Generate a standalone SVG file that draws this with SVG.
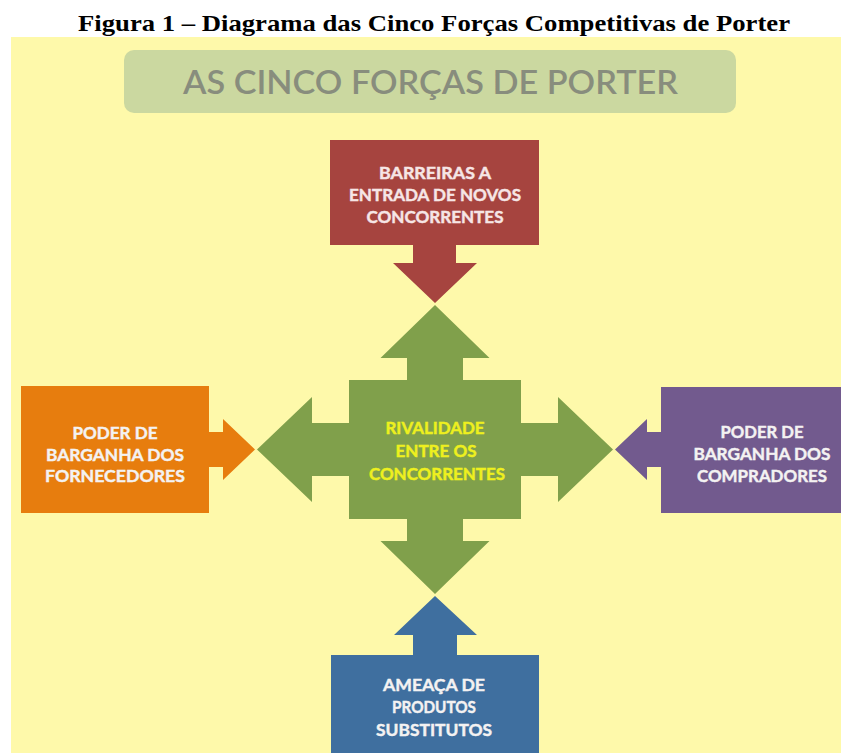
<svg xmlns="http://www.w3.org/2000/svg" width="841" height="753" viewBox="0 0 841 753">
  <style>
    .cap { font-family: "Liberation Serif", "Times New Roman", serif; font-weight: bold; font-size: 24px; fill: #000; }
    .title { font-family: Lato, "Open Sans", sans-serif; font-size: 32px; font-weight: 600; fill: #888D7D; }
    .lbl { font-family: Lato, "Open Sans", sans-serif; font-weight: bold; font-size: 17.5px; text-anchor: middle; stroke-width: 0.45px; }
    .w { fill: #F4F2F2; stroke: #F4F2F2; }
    .wr { fill: #F6E6E6; stroke: #F6E6E6; }
    .y { fill: #EEF01E; stroke: #EEF01E; }
  </style>
  <rect x="0" y="0" width="841" height="753" fill="#FFFFFF"/>
  <text class="cap" x="78" y="31" textLength="712" lengthAdjust="spacingAndGlyphs">Figura 1 – Diagrama das Cinco Forças Competitivas de Porter</text>
  <rect id="background" x="11" y="37" width="830" height="716" fill="#FEF9AA"/>

  <g id="title">
    <rect x="124" y="50" width="612" height="63" rx="10" ry="10" fill="#CBD8A0"/>
    <text class="title" x="183" y="94" textLength="495" lengthAdjust="spacingAndGlyphs">AS CINCO FORÇAS DE PORTER</text>
  </g>

  <g id="connectors">
    <!-- red arrow down -->
    <polygon points="413,244 456,244 456,263 477,263 435,303 393,263 413,263" fill="#A6443F"/>
    <!-- orange arrow right -->
    <polygon points="208,432 223,432 223,419 255,449.5 223,480 223,467 208,467" fill="#E77D0E"/>
    <!-- purple arrow left -->
    <polygon points="662,432 647,432 647,419 615,449.5 647,480 647,467 662,467" fill="#725A8E"/>
    <!-- blue arrow up -->
    <polygon points="413,656 457,656 457,635 477,635 435,596 394,635 413,635" fill="#3F6F9F"/>
  </g>

  <g id="barreiras">
    <rect x="330" y="140" width="209" height="105" fill="#A6443F"/>
    <text class="lbl wr" x="435" y="179" textLength="112" lengthAdjust="spacingAndGlyphs">BARREIRAS A</text>
    <text class="lbl wr" x="435" y="201" textLength="172" lengthAdjust="spacingAndGlyphs">ENTRADA DE NOVOS</text>
    <text class="lbl wr" x="435" y="223" textLength="137" lengthAdjust="spacingAndGlyphs">CONCORRENTES</text>
  </g>

  <g id="fornecedores">
    <rect x="21" y="386" width="188" height="127" fill="#E77D0E"/>
    <text class="lbl w" x="115" y="439" textLength="85" lengthAdjust="spacingAndGlyphs">PODER DE</text>
    <text class="lbl w" x="115" y="460.5" textLength="138" lengthAdjust="spacingAndGlyphs">BARGANHA DOS</text>
    <text class="lbl w" x="115" y="482" textLength="140" lengthAdjust="spacingAndGlyphs">FORNECEDORES</text>
  </g>

  <g id="compradores">
    <rect x="661" y="387" width="180" height="126" fill="#725A8E"/>
    <text class="lbl w" x="762" y="438" textLength="83" lengthAdjust="spacingAndGlyphs">PODER DE</text>
    <text class="lbl w" x="762" y="460" textLength="137" lengthAdjust="spacingAndGlyphs">BARGANHA DOS</text>
    <text class="lbl w" x="762" y="482" textLength="130" lengthAdjust="spacingAndGlyphs">COMPRADORES</text>
  </g>

  <g id="substitutos">
    <rect x="331" y="655" width="208" height="98" fill="#3F6F9F"/>
    <text class="lbl w" x="434" y="691" textLength="102" lengthAdjust="spacingAndGlyphs">AMEAÇA DE</text>
    <text class="lbl w" x="434" y="713" textLength="84" lengthAdjust="spacingAndGlyphs">PRODUTOS</text>
    <text class="lbl w" x="434" y="736" textLength="116" lengthAdjust="spacingAndGlyphs">SUBSTITUTOS</text>
  </g>

  <g id="rivalidade">
    <polygon fill="#80A04B" points="435,305 489.5,358 463,358 463,380 521,380 521,423 558,423 558,397 613,449.5 558,502 558,476 521,476 521,519 463,519 463,541 489.5,541 435,594 380.5,541 407,541 407,519 349,519 349,476 312,476 312,502 257,449.5 312,397 312,423 349,423 349,380 407,380 407,358 380.5,358"/>
    <text class="lbl y" x="435" y="434" textLength="99" lengthAdjust="spacingAndGlyphs">RIVALIDADE</text>
    <text class="lbl y" x="436" y="457" textLength="81" lengthAdjust="spacingAndGlyphs">ENTRE OS</text>
    <text class="lbl y" x="437" y="480" textLength="136" lengthAdjust="spacingAndGlyphs">CONCORRENTES</text>
  </g>
</svg>
